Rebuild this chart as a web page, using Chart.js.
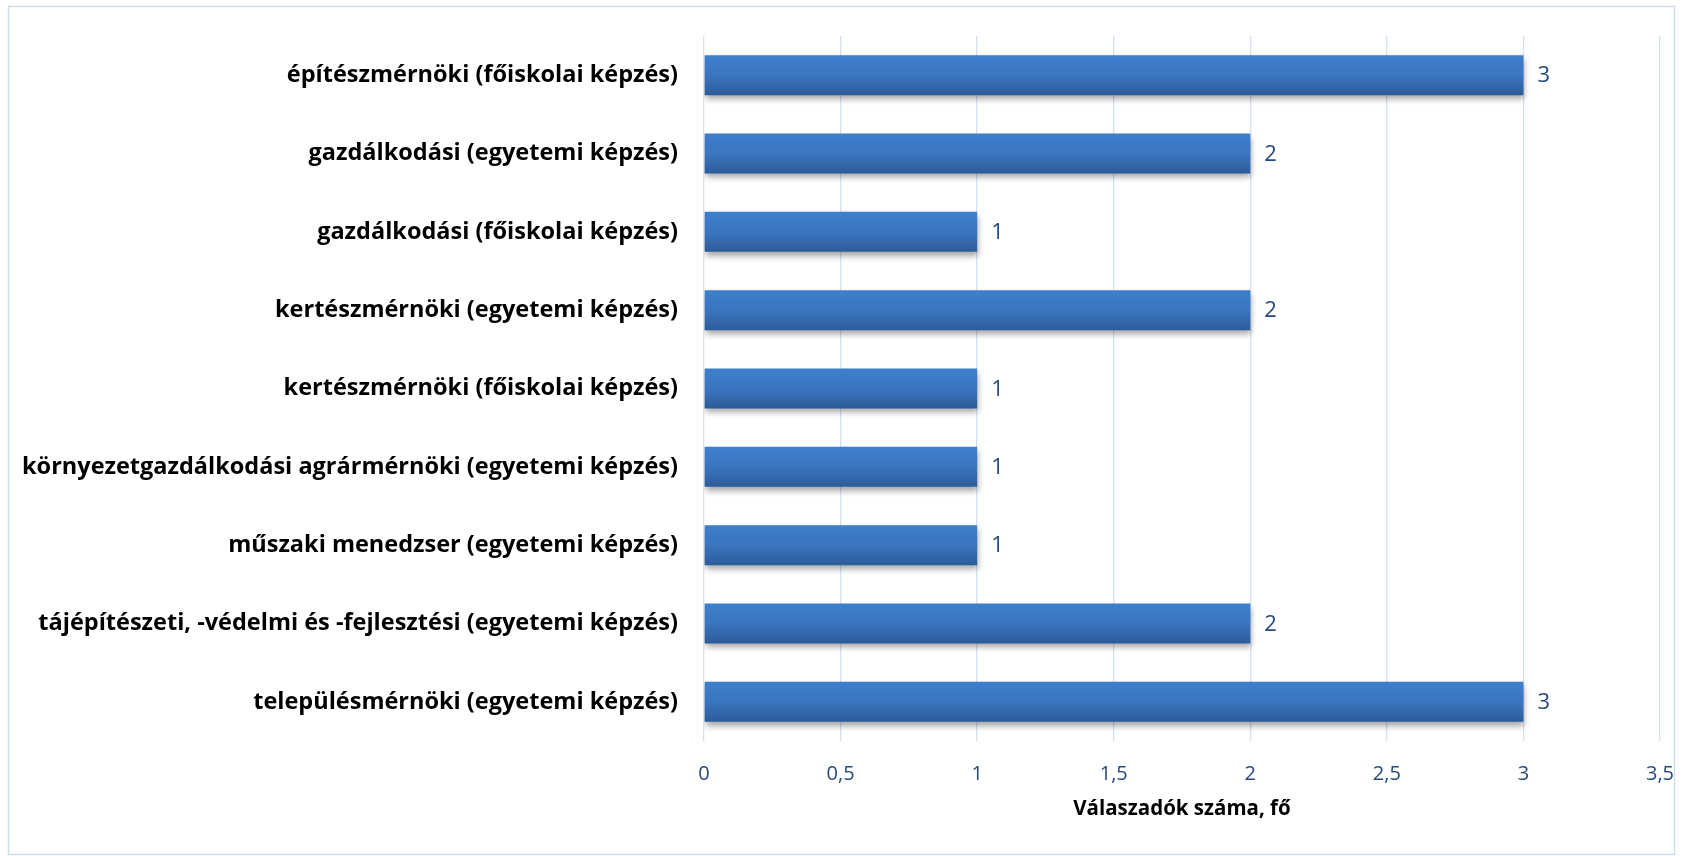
<!DOCTYPE html>
<html>
<head>
<meta charset="utf-8">
<script src="https://cdn.jsdelivr.net/npm/chart.js@4.4.1/dist/chart.umd.min.js"></script>
<style>
  html, body { margin: 0; padding: 0; background: #fff; }
  #wrap { position: relative; width: 1685px; height: 856px; }
</style>
</head>
<body>
<div id="wrap"><canvas id="c" width="1685" height="856"></canvas></div>
<script>
const categories = [
  'építészmérnöki (főiskolai képzés)',
  'gazdálkodási (egyetemi képzés)',
  'gazdálkodási (főiskolai képzés)',
  'kertészmérnöki (egyetemi képzés)',
  'kertészmérnöki (főiskolai képzés)',
  'környezetgazdálkodási agrármérnöki (egyetemi képzés)',
  'műszaki menedzser (egyetemi képzés)',
  'tájépítészeti, -védelmi és -fejlesztési (egyetemi képzés)',
  'településmérnöki (egyetemi képzés)'
];
const respondents = [3, 2, 1, 2, 1, 1, 1, 2, 3];
const xAxisTitle = 'Válaszadók száma, fő';
const xMin = 0, xMax = 3.5, xStep = 0.5;

const tickBlue = '#254A7F';
const FONT = '"Open Sans", "Noto Sans", sans-serif';

const framePlugin = {
  id: 'frame',
  beforeDraw(chart) {
    const ctx = chart.ctx;
    ctx.save();
    ctx.fillStyle = '#fff';
    ctx.fillRect(0, 0, chart.width, chart.height);
    ctx.strokeStyle = '#CFDDF0';
    ctx.lineWidth = 1.5;
    ctx.strokeRect(8.5, 6.5, 1666, 848);
    ctx.restore();
  }
};

const shadowPlugin = {
  id: 'barShadow',
  beforeDatasetsDraw(chart) {
    const ctx = chart.ctx;
    ctx.save();
    ctx.shadowColor = 'rgba(0,0,0,0.35)';
    ctx.shadowBlur = 6;
    ctx.shadowOffsetX = 1;
    ctx.shadowOffsetY = 4;
  },
  afterDatasetsDraw(chart) {
    chart.ctx.restore();
    const ctx = chart.ctx;
    const meta = chart.getDatasetMeta(0);
    ctx.save();
    ctx.fillStyle = tickBlue;
    ctx.font = '22px ' + FONT;
    ctx.textAlign = 'left';
    ctx.textBaseline = 'middle';
    meta.data.forEach((bar, i) => {
      ctx.fillText(String(chart.data.datasets[0].data[i]), bar.x + 14, bar.y + 1);
    });
    ctx.restore();
  }
};

function barFill(context) {
  const chart = context.chart;
  const area = chart.chartArea;
  if (!area || context.dataIndex === undefined) return '#3A76C2';
  const y = chart.scales.y.getPixelForValue(context.dataIndex);
  const h = 20;
  const g = chart.ctx.createLinearGradient(0, y - h, 0, y + h);
  g.addColorStop(0, '#3E7FCD');
  g.addColorStop(0.5, '#3A75C0');
  g.addColorStop(1, '#2D5B99');
  return g;
}

new Chart(document.getElementById('c'), {
  type: 'bar',
  data: {
    labels: categories,
    datasets: [{
      data: respondents,
      backgroundColor: barFill,
      borderWidth: 0,
      categoryPercentage: 1,
      barPercentage: 0.51
    }]
  },
  options: {
    indexAxis: 'y',
    responsive: false,
    animation: false,
    events: [],
    layout: { padding: { top: 36, right: 25, left: 0, bottom: 0 } },
    plugins: {
      legend: { display: false },
      tooltip: { enabled: false },
      title: { display: false }
    },
    scales: {
      x: {
        min: xMin, max: xMax,
        grid: { color: '#D5E0F0', lineWidth: 1.3, drawTicks: false },
        border: { display: false },
        ticks: {
          stepSize: xStep,
          padding: 21,
          color: tickBlue,
          font: { family: FONT, size: 20 },
          callback: v => String(v).replace('.', ',')
        },
        title: {
          display: true,
          text: xAxisTitle,
          color: '#000',
          font: { family: FONT, size: 20.5, weight: 'bold' },
          padding: { top: 0, bottom: 35 }
        },
        afterFit(scale) {
          scale.height = 115;
          scale.paddingLeft = 0;
          scale.paddingRight = 0;
        }
      },
      y: {
        grid: { display: false, drawTicks: false },
        border: { display: false },
        ticks: {
          padding: 26,
          color: '#000',
          font: { family: FONT, size: 23.5, weight: 'bold' }
        },
        afterFit(scale) {
          scale.width = 704;
          scale.paddingTop = 0;
          scale.paddingBottom = 0;
        }
      }
    }
  },
  plugins: [framePlugin, shadowPlugin]
});
</script>
</body>
</html>
